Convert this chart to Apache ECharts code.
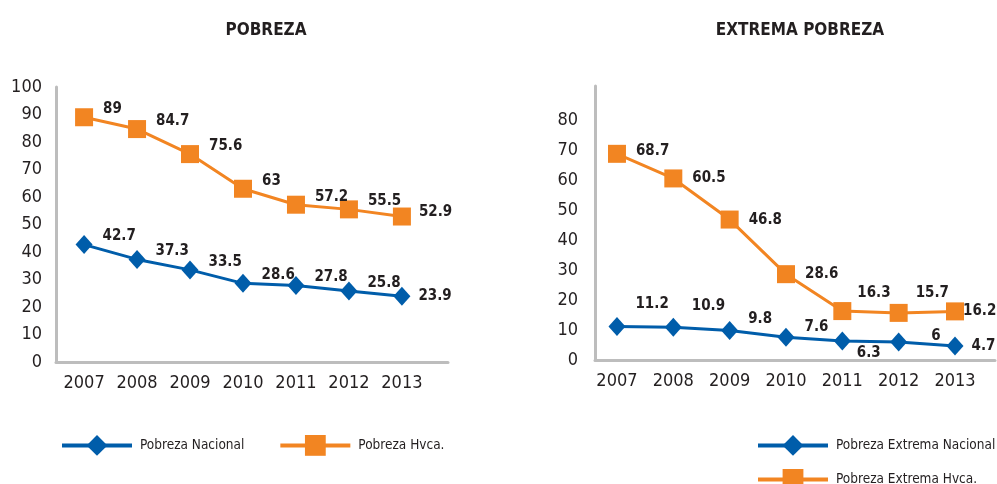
<!DOCTYPE html>
<html>
<head>
<meta charset="utf-8">
<script src="https://cdn.jsdelivr.net/npm/echarts@6/dist/echarts.min.js"></script>
<style>
  html, body { margin: 0; padding: 0; background: #fff; }
  #main { width: 997px; height: 484px; }
</style>
</head>
<body>
<div id="main"></div>
<script>
// datos
var years = [2007, 2008, 2009, 2010, 2011, 2012, 2013];
var pobrezaNacional = [42.7, 37.3, 33.5, 28.6, 27.8, 25.8, 23.9];
var pobrezaHvca = [89, 84.7, 75.6, 63, 57.2, 55.5, 52.9];
var extremaNacional = [11.2, 10.9, 9.8, 7.6, 6.3, 6, 4.7];
var extremaHvca = [68.7, 60.5, 46.8, 28.6, 16.3, 15.7, 16.2];

var AZUL = '#005DAA';
var NARANJA = '#F28522';
var TEXTO = '#231f20';
var FUENTE = '"DejaVu Sans Condensed", "Liberation Sans Narrow", sans-serif';

// pares [año, valor] con ajuste de la etiqueta por punto
function puntos(values, offsets) {
    return values.map(function (v, i) {
        var item = { value: [years[i], v] };
        if (offsets && offsets[i]) {
            item.label = offsets[i];
        }
        return item;
    });
}

function xAxisCfg(grid, min, max) {
    return {
        type: 'value', gridIndex: grid, min: min, max: max, splitNumber: 7,
        axisLine: { show: true, lineStyle: { color: '#bdbdbd', width: 3 } },
        axisTick: { show: false },
        splitLine: { show: false },
        axisLabel: {
            color: TEXTO, fontFamily: FUENTE, fontSize: 18, margin: 12,
            showMinLabel: false, showMaxLabel: false,
            formatter: function (v) { return Number.isInteger(v) ? String(v) : ''; }
        }
    };
}

function yAxisCfg(grid, max, maxLabel, margin) {
    return {
        type: 'value', gridIndex: grid, min: 0, max: max, interval: 10,
        axisLine: { show: true, lineStyle: { color: '#bdbdbd', width: 3 } },
        axisTick: { show: false },
        splitLine: { show: false },
        axisLabel: {
            color: TEXTO, fontFamily: FUENTE, fontSize: 18, margin: margin,
            formatter: function (v) { return v <= maxLabel ? String(v) : ''; }
        }
    };
}

function serie(name, grid, values, color, symbol, size, offsets) {
    return {
        name: name, type: 'line', xAxisIndex: grid, yAxisIndex: grid,
        data: puntos(values, offsets),
        symbol: symbol, symbolSize: size,
        lineStyle: { color: color, width: 3 },
        itemStyle: { color: color },
        label: {
            show: true, position: 'right', distance: 8, offset: [2, -8],
            color: TEXTO, fontFamily: FUENTE, fontSize: 15, fontWeight: 'bold',
            formatter: function (p) { return p.value[1]; }
        },
        z: 3
    };
}

function leyenda(nombres, left, top, gap) {
    return {
        data: nombres, left: left, top: top,
        itemWidth: 70, itemHeight: 26, itemGap: gap || 38,
        lineStyle: { width: 4 },
        textStyle: { color: TEXTO, fontFamily: FUENTE, fontSize: 13.5, padding: [0, 0, 0, 3] }
    };
}

var myChart = echarts.init(document.getElementById('main'));

var option = {
    animation: false,
    title: [
        { text: 'POBREZA', left: 261, top: 17, textAlign: 'center',
          textStyle: { color: TEXTO, fontFamily: FUENTE, fontSize: 17, fontWeight: 'bold' } },
        { text: 'EXTREMA POBREZA', left: 795, top: 17, textAlign: 'center',
          textStyle: { color: TEXTO, fontFamily: FUENTE, fontSize: 17, fontWeight: 'bold' } }
    ],
    legend: [
        leyenda(['Pobreza Nacional', 'Pobreza Hvca.'], 55, 430, 34),
        leyenda(['Pobreza Extrema Nacional'], 751, 430),
        leyenda(['Pobreza Extrema Hvca.'], 751, 464)
    ],
    grid: [
        { left: 56, top: 87, width: 392, height: 275 },
        { left: 595, top: 86, width: 400, height: 274 }
    ],
    xAxis: [
        xAxisCfg(0, 2006.47, 2013.87),
        xAxisCfg(1, 2006.61, 2013.71)
    ],
    yAxis: [
        yAxisCfg(0, 100, 100, 14),
        yAxisCfg(1, 91.3, 80, 17)
    ],
    series: [
        serie('Pobreza Nacional', 0, pobrezaNacional, AZUL, 'diamond', [17, 19],
            { 6: { offset: [0, 0] } }),
        serie('Pobreza Hvca.', 0, pobrezaHvca, NARANJA, 'rect', 18,
            { 6: { offset: [0, -4] } }),
        serie('Pobreza Extrema Nacional', 1, extremaNacional, AZUL, 'diamond', [17, 19],
            { 0: { offset: [2, -22] }, 1: { offset: [2, -21] }, 2: { offset: [2, -11] },
              3: { offset: [2, -10] }, 4: { offset: [-2, 12] }, 5: { offset: [16, -6] },
              6: { offset: [0, 0] } }),
        serie('Pobreza Extrema Hvca.', 1, extremaHvca, NARANJA, 'rect', 18,
            { 0: { offset: [2, -3] }, 1: { offset: [2, 0] }, 2: { offset: [2, 1] },
              3: { offset: [2, 0] }, 4: { offset: [-2, -18] }, 5: { offset: [0, -20] },
              6: { offset: [-9, 0] } })
    ]
};

myChart.setOption(option);
window.addEventListener('resize', function () {
    myChart.resize();
});
</script>
</body>
</html>
